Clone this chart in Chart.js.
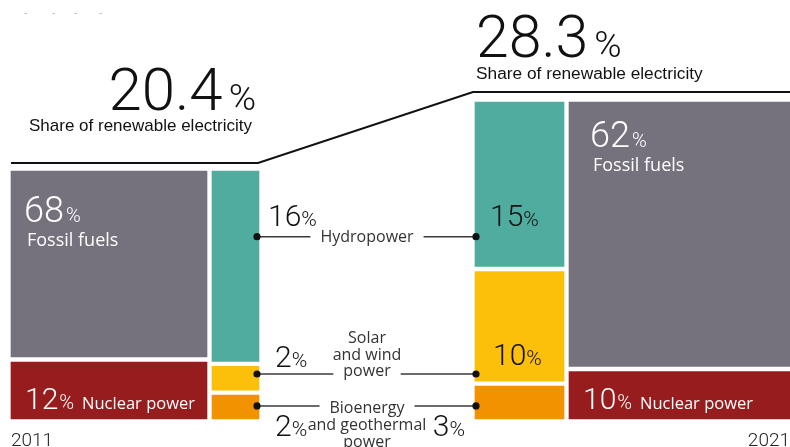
<!DOCTYPE html>
<html><head><meta charset="utf-8">
<script src="https://cdn.jsdelivr.net/npm/chart.js@4"></script>
<style>html,body{margin:0;padding:0;background:#fff;overflow:hidden}#wrap{width:790px;height:447px;position:relative}</style>
</head><body><div id="wrap"><canvas id="c"></canvas></div>
<script>
// ---------------- data ----------------
const years = ['2011', '2021'];
const renewableShare = [20.4, 28.3];
const fossilFuels = [68, 62];
const nuclearPower = [12, 10];
const hydropower = [16, 15];
const solarWind = [2, 10];
const bioGeothermal = [2, 3];
const seriesNames = ['Fossil fuels', 'Nuclear power', 'Hydropower', ['Solar', 'and wind', 'power'], ['Bioenergy', 'and geothermal', 'power']];
const shareLabel = 'Share of renewable electricity';

// ---------------- style / layout ----------------
const COLORS = { fossil: '#75727e', nuclear: '#971c1d', hydro: '#50ac9f', solar: '#fcc00b', bio: '#f29200' };
const NUM_FONT = "'Roboto', 'Liberation Sans', sans-serif";
const LBL_FONT = "'Open Sans', 'Liberation Sans', sans-serif";
const HEAD_FONT = "'Liberation Sans', Arial, sans-serif";
const L = {
  W: 790, H: 447, baseY: 419,
  colH: [248, 317], gap: 5, nucUnit: 4.75,
  left: 11, mainW: [196, 222], renW: [47, 89], midGap: 216,
  linePad: [8, 10], connFrac: [0.655, 0.68, 0.55]
};
const xs = (() => {
  const m0L = L.left, m0R = m0L + L.mainW[0];
  const r0L = m0R + L.gap, r0R = r0L + L.renW[0];
  const r1L = r0R + L.midGap, r1R = r1L + L.renW[1];
  const m1L = r1R + L.gap, m1R = m1L + L.mainW[1];
  return { main: [[m0L, m0R], [m1L, m1R]], ren: [[r0L, r0R], [r1L, r1R]] };
})();
const mid = a => (a[0] + a[1]) / 2;
function segs(i) {
  const H = L.colH[i], g = L.gap;
  const nucTop = nuclearPower[i] * L.nucUnit;
  const u = (H - 2 * g) / (hydropower[i] + solarWind[i] + bioGeothermal[i]);
  const b = bioGeothermal[i] * u, s = solarWind[i] * u;
  return {
    nuclear: [0, nucTop], fossil: [nucTop + g, H],
    bio: [0, b], solar: [b + g, b + g + s], hydro: [b + 2 * g + s, H]
  };
}
const S = [segs(0), segs(1)];

const datasets = [];
const idx = {};
function addBar(key, i, xr, range, color) {
  idx[key + i] = datasets.length;
  datasets.push({ type: 'bar', label: key + ' ' + years[i], data: [{ x: mid(xr), y: range }],
    backgroundColor: color, borderWidth: 0, barThickness: xr[1] - xr[0], order: 2 });
}
for (let i = 0; i < 2; i++) {
  addBar('fossil', i, xs.main[i], S[i].fossil, COLORS.fossil);
  addBar('nuclear', i, xs.main[i], S[i].nuclear, COLORS.nuclear);
  addBar('hydro', i, xs.ren[i], S[i].hydro, COLORS.hydro);
  addBar('solar', i, xs.ren[i], S[i].solar, COLORS.solar);
  addBar('bio', i, xs.ren[i], S[i].bio, COLORS.bio);
}
// share outline
const ly0 = L.colH[0] + L.linePad[0], ly1 = L.colH[1] + L.linePad[1];
datasets.push({ type: 'line', label: 'share', data: [
  { x: xs.main[0][0], y: ly0 }, { x: xs.ren[0][1] - 1, y: ly0 },
  { x: xs.ren[1][0] - 2, y: ly1 }, { x: L.W, y: ly1 }],
  borderColor: '#111', borderWidth: 2, pointRadius: 0, tension: 0, order: 0 });
// connectors
const connKeys = ['hydro', 'solar', 'bio'];
const connY = connKeys.map((k, j) => { const r = S[0][k]; return r[0] + L.connFrac[j] * (r[1] - r[0]); });
connKeys.forEach((k, j) => {
  datasets.push({ type: 'line', label: 'conn ' + k, data: [
    { x: xs.ren[0][1] - 2, y: connY[j] }, { x: xs.ren[1][0] + 1, y: connY[j] }],
    borderColor: '#3a3a3a', borderWidth: 1.5, pointRadius: 3.6, pointBorderWidth: 0,
    pointBackgroundColor: '#111', tension: 0, order: 0 });
});

// ---------------- text plugin ----------------
function numPct(ctx, value, x, y, size, pctSize, color, gap) {
  ctx.fillStyle = color; ctx.textAlign = 'left'; ctx.textBaseline = 'alphabetic';
  ctx.font = `300 ${size}px ${NUM_FONT}`;
  const s = String(value);
  ctx.fillText(s, x, y);
  const w = ctx.measureText(s).width;
  ctx.font = `300 ${pctSize}px ${NUM_FONT}`;
  ctx.fillText('%', x + w + gap, y);
  return x + w + gap + ctx.measureText('%').width;
}
function numPctWidth(ctx, value, size, pctSize, gap) {
  ctx.font = `300 ${size}px ${NUM_FONT}`;
  const w = ctx.measureText(String(value)).width;
  ctx.font = `300 ${pctSize}px ${NUM_FONT}`;
  return w + gap + ctx.measureText('%').width;
}
const textPlugin = {
  id: 'texts',
  afterDatasetsDraw(chart) {
    const ctx = chart.ctx, yS = chart.scales.y;
    const el = key => { const e = chart.getDatasetMeta(idx[key]).data[0];
      return { l: e.x - e.width / 2, r: e.x + e.width / 2, t: Math.min(e.y, e.base), b: Math.max(e.y, e.base) }; };
    ctx.save();
    // faint marks top-left
    ctx.fillStyle = '#b8b8b8'; ctx.font = `10px ${HEAD_FONT}`;
    [24, 52, 74, 99].forEach(x => ctx.fillText('-', x, 16));

    const lineY0 = yS.getPixelForValue(ly0), lineY1 = yS.getPixelForValue(ly1);
    // left share block (right aligned)
    const endX = xs.ren[0][1] - 3;
    const wL = numPctWidth(ctx, renewableShare[0], 60, 37, 6);
    numPct(ctx, renewableShare[0], endX - wL, lineY0 - 53, 60, 37, '#111', 6);
    ctx.font = `17px ${HEAD_FONT}`; ctx.fillStyle = '#111'; ctx.textAlign = 'right';
    ctx.fillText(shareLabel, endX - 4, lineY0 - 32);
    // right share block
    const sx = xs.ren[1][0] + 1;
    numPct(ctx, renewableShare[1], sx, lineY1 - 35, 59, 37, '#111', 6);
    ctx.font = `17.3px ${HEAD_FONT}`; ctx.fillStyle = '#111'; ctx.textAlign = 'left';
    ctx.fillText(shareLabel, sx, lineY1 - 13);

    // fossil / nuclear labels
    for (let i = 0; i < 2; i++) {
      const f = el('fossil' + i), n = el('nuclear' + i);
      const fx = f.l + (i === 0 ? 13 : 21);
      numPct(ctx, fossilFuels[i], fx, f.t + (i === 0 ? 51 : 45), 36, 20, '#fff', 2);
      ctx.font = `18px ${LBL_FONT}`; ctx.fillStyle = '#fff'; ctx.textAlign = 'left';
      ctx.fillText(seriesNames[0], fx + 3, f.t + (i === 0 ? 75 : 69));
      const e = numPct(ctx, nuclearPower[i], n.l + 14, n.b - 10, 30, 20, '#fff', 1);
      ctx.font = `16.5px ${LBL_FONT}`; ctx.fillStyle = '#fff'; ctx.textAlign = 'left';
      ctx.fillText(seriesNames[1], e + 8, n.b - 10);
    }
    // renewables numbers
    const cy = connY.map(v => yS.getPixelForValue(v));
    const r0 = xs.ren[0][1], r1 = xs.ren[1][0];
    numPct(ctx, hydropower[0], r0 + 9, cy[0] - 11, 30, 21, '#111', 0);
    numPct(ctx, hydropower[1], r1 + 15, cy[0] - 11, 30, 21, '#111', 0);
    numPct(ctx, solarWind[0], r0 + 16, cy[1] - 7, 30, 21, '#111', 0);
    numPct(ctx, solarWind[1], r1 + 18, el('solar1').b - 16, 30, 21, '#111', 0);
    numPct(ctx, bioGeothermal[0], r0 + 16, cy[2] + 30, 30, 21, '#111', 0);
    const w3 = numPctWidth(ctx, bioGeothermal[1], 30, 21, 0);
    numPct(ctx, bioGeothermal[1], r1 - 10 - w3, cy[2] + 30, 30, 21, '#111', 0);

    // middle labels
    const cx = (r0 + r1) / 2;
    ctx.font = `16px ${LBL_FONT}`; ctx.textAlign = 'center'; ctx.textBaseline = 'alphabetic';
    const gapRect = (txt, y) => { const w = ctx.measureText(txt).width; ctx.fillStyle = '#fff'; ctx.fillRect(cx - w / 2 - 10, y - 4, w + 20, 8); };
    gapRect(seriesNames[2], cy[0]);
    ctx.fillStyle = '#333'; ctx.fillText(seriesNames[2], cx, cy[0] + 5);
    const sl = seriesNames[3];
    gapRect(sl[2], cy[1]);
    ctx.fillStyle = '#333';
    sl.forEach((t, k) => ctx.fillText(t, cx, cy[1] + 2 - (2 - k) * 16.5));
    const bl = seriesNames[4];
    gapRect(bl[0], cy[2]);
    ctx.fillStyle = '#333';
    bl.forEach((t, k) => ctx.fillText(t, cx, cy[2] + 7 + k * 17));

    // years
    ctx.font = `300 19px ${NUM_FONT}`; ctx.fillStyle = '#222';
    ctx.textAlign = 'left'; ctx.fillText(years[0], xs.main[0][0], 446);
    ctx.textAlign = 'right'; ctx.fillText(years[1], L.W, 446);
    ctx.restore();
  }
};

new Chart(document.getElementById('c'), {
  data: { datasets },
  options: {
    responsive: true, maintainAspectRatio: false, animation: false,
    layout: { padding: 0, autoPadding: false },
    plugins: { legend: { display: false }, tooltip: { enabled: false } },
    events: [],
    scales: {
      x: { type: 'linear', min: 0, max: L.W, display: false, offset: false, stacked: true },
      y: { type: 'linear', min: L.baseY - L.H, max: L.baseY, display: false, stacked: false }
    }
  },
  plugins: [textPlugin]
});
</script></body></html>
